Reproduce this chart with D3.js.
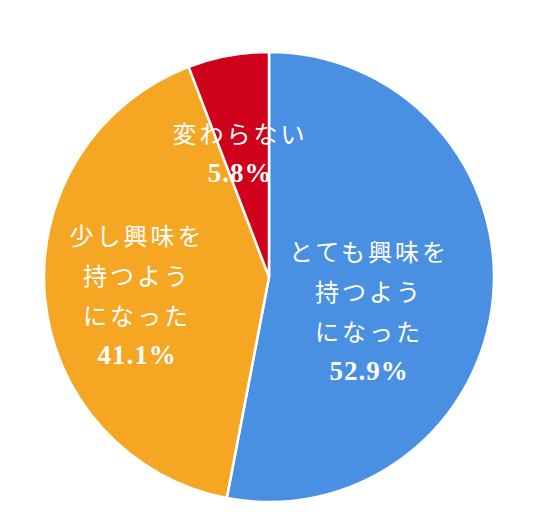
<!DOCTYPE html>
<html>
<head>
<meta charset="utf-8">
<script src="https://cdn.jsdelivr.net/npm/d3@7"></script>
<style>
  body { margin: 0; background: #fff; }
</style>
</head>
<body>
<script>
// data
var categories = ["とても興味を持つようになった", "少し興味を持つようになった", "変わらない"];
var values = [52.9, 41.1, 5.8];
var labelLines = [
  ["とても興味を", "持つよう", "になった"],
  ["少し興味を", "持つよう", "になった"],
  ["変わらない"]
];
var colors = ["#4a90e2", "#f5a623", "#d0021b"];

var width = 538,
    height = 528,
    cx = 269,
    cy = 277,
    r = 225;

// where each label block sits (center x, first line y)
var labelAt = [[369, 253], [137, 237], [240, 135]];
var lineGap = 40;

var svg = d3.select("body").append("svg")
    .attr("width", width)
    .attr("height", height);

var pie = d3.pie().sort(null).value(function(d) { return d; });
var arc = d3.arc().innerRadius(0).outerRadius(r);

var g = svg.append("g").attr("transform", "translate(" + cx + "," + cy + ")");

g.selectAll("path")
  .data(pie(values))
  .enter().append("path")
    .attr("d", arc)
    .attr("fill", function(d, i) { return colors[i]; })
    .attr("stroke", "#fff")
    .attr("stroke-width", 2.5)
    .attr("stroke-linejoin", "round");

var fmt = d3.format(".1f");

labelLines.forEach(function(lines, i) {
  var t = svg.append("text")
      .attr("text-anchor", "middle")
      .attr("fill", "#fff");
  lines.forEach(function(s, j) {
    t.append("tspan")
      .attr("x", labelAt[i][0])
      .attr("y", labelAt[i][1] + j * lineGap)
      .attr("dy", "0.35em")
      .attr("font-family", "'Noto Sans CJK JP', sans-serif")
      .attr("font-size", 24)
      .attr("letter-spacing", 3)
      .text(s);
  });
  t.append("tspan")
    .attr("x", labelAt[i][0])
    .attr("y", labelAt[i][1] + lines.length * lineGap - 2)
    .attr("dy", "0.35em")
    .attr("font-family", "'Liberation Serif', serif")
    .attr("font-weight", "bold")
    .attr("font-size", 27)
    .attr("letter-spacing", 1)
    .text(fmt(values[i]) + "%");
});
</script>
</body>
</html>
